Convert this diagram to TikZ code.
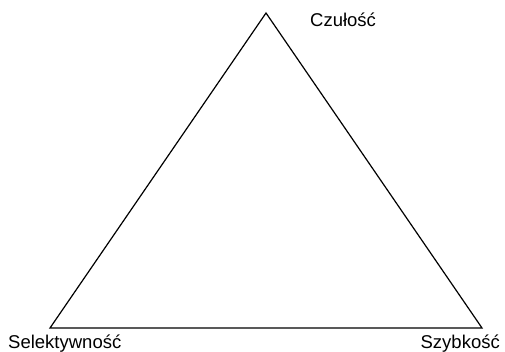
\documentclass[tikz,border=0pt]{standalone}
\usepackage{fontspec}
\setmainfont{Liberation Sans}
\begin{document}
\begin{tikzpicture}[x=1pt,y=-1pt,
  lbl/.style={font=\fontsize{18.5}{22}\selectfont, inner sep=0pt},
  edge/.style={draw=black, line width=1.2pt, line join=miter}]
\useasboundingbox (0,0) rectangle (505,352);
\coordinate (top) at (266,13);
\coordinate (bl) at (50,328);
\coordinate (br) at (482,328);
\draw[edge] (top) -- (br) -- (bl) -- cycle;
\node[lbl, anchor=base west] (czu) at (310,27) {Czułość};
\node[lbl, anchor=base west] (sel) at (8,348) {Selektywność};
\node[lbl, anchor=base east] (szy) at (500,348) {Szybkość};
\end{tikzpicture}
\end{document}
